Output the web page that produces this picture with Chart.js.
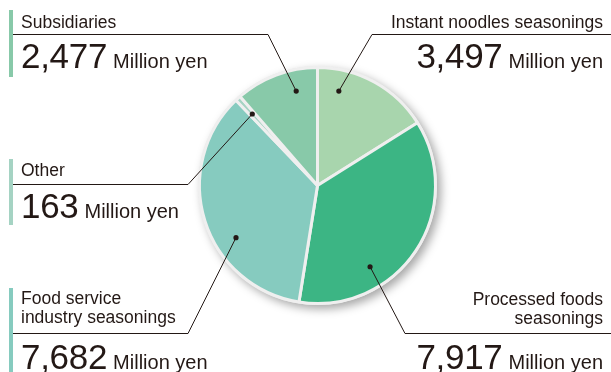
<!DOCTYPE html>
<html>
<head>
<meta charset="utf-8">
<script src="https://cdn.jsdelivr.net/npm/chart.js@4"></script>
<style>
  body { margin: 0; background: #fff; }
  #wrap { position: relative; width: 611px; height: 372px; overflow: hidden;
          font-family: "Liberation Sans", Arial, sans-serif; color: #231815; }
  canvas { position: absolute; left: 0; top: 0; }
  .lab { position: absolute; font-size: 17.5px; line-height: 19px; white-space: nowrap; }
  .num { position: absolute; font-size: 35px; line-height: 35px; white-space: nowrap; letter-spacing: -0.3px; }
  .num span { font-size: 20px; letter-spacing: 0; margin-left: 6px; }
  .bar { position: absolute; left: 9px; width: 4px; }
  .r { text-align: right; }
</style>
</head>
<body>
<div id="wrap">
  <canvas id="pie_chart" width="611" height="372"></canvas>
</div>
<script>
// data, clockwise from 12 o'clock
var categories = ['Instant noodles seasonings', 'Processed foods seasonings',
                  'Food service industry seasonings', 'Other', 'Subsidiaries'];
var amounts = [3497, 7917, 7682, 163, 2477];
var unit = 'Million yen';
var colors = ['#a8d5ad', '#3cb584', '#86cbbf', '#a5d3c3', '#88c9a9'];

// label placement (layout only)
var labelLines = [
  ['Instant noodles seasonings'],
  ['Processed foods', 'seasonings'],
  ['Food service', 'industry seasonings'],
  ['Other'],
  ['Subsidiaries']
];
var labelBoxes = [
  { right: 8, top: 12.7, numTop: 38.4, lineY: 34, fromX: 611, cornerX: 372, dotAt: 0.22 },
  { right: 8, top: 289.5, numTop: 339, lineY: 333, fromX: 611, cornerX: 405, dotAt: 0.68 },
  { left: 21, top: 288.5, numTop: 339, lineY: 333, fromX: 13, cornerX: 188, dotAt: 0.38, bar: [288, 372] },
  { left: 21, top: 160.5, numTop: 188.4, lineY: 184, fromX: 13, cornerX: 188, dotAt: 0.5, bar: [159, 225] },
  { left: 21, top: 12.7, numTop: 38.4, lineY: 34, fromX: 13, cornerX: 268, dotAt: 0.69, bar: [10, 77] }
];

var wrap = document.getElementById('wrap');
categories.forEach(function (cat, i) {
  var box = labelBoxes[i];
  var lab = document.createElement('div');
  lab.className = 'lab' + (box.right !== undefined ? ' r' : '');
  lab.innerHTML = labelLines[i].join('<br>');
  var num = document.createElement('div');
  num.className = 'num' + (box.right !== undefined ? ' r' : '');
  num.innerHTML = amounts[i].toLocaleString('en-US') + '<span>' + unit + '</span>';
  [lab, num].forEach(function (el) {
    if (box.right !== undefined) el.style.right = box.right + 'px';
    else el.style.left = box.left + 'px';
  });
  lab.style.top = box.top + 'px';
  num.style.top = box.numTop + 'px';
  wrap.appendChild(lab);
  wrap.appendChild(num);
  if (box.bar) {
    var bar = document.createElement('div');
    bar.className = 'bar';
    bar.style.top = box.bar[0] + 'px';
    bar.style.height = (box.bar[1] - box.bar[0]) + 'px';
    bar.style.background = colors[i];
    wrap.appendChild(bar);
  }
});

// shadow + grey rim behind the pie
var rimPlugin = {
  id: 'rim',
  beforeDatasetsDraw: function (chart) {
    var arc = chart.getDatasetMeta(0).data[0];
    var ctx = chart.ctx;
    ctx.save();
    ctx.shadowColor = 'rgba(0,0,0,0.35)';
    ctx.shadowBlur = 10;
    ctx.shadowOffsetX = 4;
    ctx.shadowOffsetY = 4;
    ctx.fillStyle = '#ececec';
    ctx.beginPath();
    ctx.arc(arc.x, arc.y, arc.outerRadius + 1.5, 0, Math.PI * 2);
    ctx.fill();
    ctx.restore();
  }
};

// leader lines from the text underlines to a dot inside each slice
var leaderPlugin = {
  id: 'leaders',
  afterDatasetsDraw: function (chart) {
    var ctx = chart.ctx;
    chart.getDatasetMeta(0).data.forEach(function (arc, i) {
      var box = labelBoxes[i];
      var a = arc.startAngle + box.dotAt * (arc.endAngle - arc.startAngle);
      var r = arc.outerRadius * 0.82;
      var dx = arc.x + Math.cos(a) * r;
      var dy = arc.y + Math.sin(a) * r;
      ctx.save();
      ctx.strokeStyle = '#231815';
      ctx.lineWidth = 1;
      ctx.beginPath();
      ctx.moveTo(box.fromX, box.lineY + 0.5);
      ctx.lineTo(box.cornerX, box.lineY + 0.5);
      ctx.lineTo(dx, dy);
      ctx.stroke();
      ctx.fillStyle = '#231815';
      ctx.beginPath();
      ctx.arc(dx, dy, 2.6, 0, Math.PI * 2);
      ctx.fill();
      ctx.restore();
    });
  }
};

var ctx = document.getElementById('pie_chart').getContext('2d');
var chartInstance = new Chart(ctx, {
  type: 'pie',
  data: {
    labels: categories,
    datasets: [{
      data: amounts,
      backgroundColor: colors,
      borderColor: '#efefef',
      borderWidth: 3
    }]
  },
  options: {
    responsive: false,
    animation: false,
    layout: { padding: { left: 198, right: 174, top: 66, bottom: 67 } },
    plugins: { legend: { display: false }, tooltip: { enabled: false } }
  },
  plugins: [rimPlugin, leaderPlugin]
});
</script>
</body>
</html>
